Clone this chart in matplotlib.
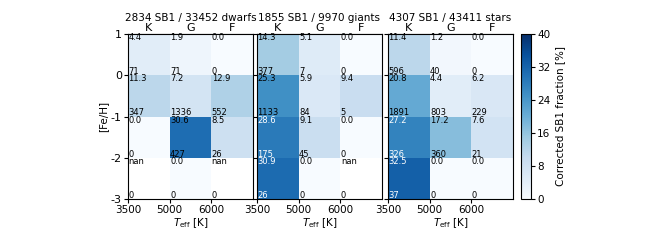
import numpy as np
import matplotlib
matplotlib.use("Agg")
import matplotlib.pyplot as plt

plt.rcParams["axes.unicode_minus"] = False

# ── Data (rows top-to-bottom: [Fe/H] 1..0, 0..-1, -1..-2, -2..-3; cols K, G, F) ──
FEH_EDGES = [1, 0, -1, -2, -3]
SPEC_TYPES = ["K", "G", "F"]
TEFF_TICKS = ["3500", "5000", "6000"]

titles = ["2834 SB1 / 33452 dwarfs", "1855 SB1 / 9970 giants", "4307 SB1 / 43411 stars"]

frac_dwarfs = [[4.4, 1.9, 0.0],
               [11.3, 7.2, 12.9],
               [0.0, 30.6, 8.5],
               [np.nan, 0.0, np.nan]]
n_dwarfs = [[71, 71, 0],
            [347, 1336, 552],
            [0, 427, 26],
            [0, 0, 0]]

frac_giants = [[14.3, 5.1, 0.0],
               [25.3, 5.9, 9.4],
               [28.6, 9.1, 0.0],
               [30.9, 0.0, np.nan]]
n_giants = [[377, 7, 0],
            [1133, 84, 5],
            [175, 45, 0],
            [26, 0, 0]]

frac_all = [[11.4, 1.2, 0.0],
            [20.8, 4.4, 6.2],
            [27.2, 17.2, 7.6],
            [32.5, 0.0, 0.0]]
n_all = [[596, 40, 0],
         [1891, 803, 229],
         [326, 360, 21],
         [37, 0, 0]]

# cells annotated in white
white_dwarfs = [[0, 0, 0], [0, 0, 0], [0, 0, 0], [0, 0, 0]]
white_giants = [[0, 0, 0], [0, 0, 0], [1, 0, 0], [1, 0, 0]]
white_all = [[0, 0, 0], [0, 0, 0], [1, 0, 0], [1, 0, 0]]

panels = [(frac_dwarfs, n_dwarfs, white_dwarfs),
          (frac_giants, n_giants, white_giants),
          (frac_all, n_all, white_all)]

# ── Figure ────────────────────────────────────────────────────────────────────
fig = plt.figure(figsize=(6.58, 2.42), dpi=100)
W, H = 658, 242
lefts = [128, 257, 388]
ax_w, ax_top, ax_bot = 125, 34, 199

x_edges = np.arange(len(SPEC_TYPES) + 1)
mesh = None
for k, (frac, cnt, white) in enumerate(panels):
    ax = fig.add_axes([lefts[k] / W, (H - ax_bot) / H, ax_w / W, (ax_bot - ax_top) / H])
    data = np.array(frac, dtype=float)
    mesh = ax.pcolormesh(x_edges, FEH_EDGES, data, cmap="Blues", vmin=0, vmax=40)
    ax.set_xlim(0, 3)
    ax.set_ylim(-3, 1)
    ax.set_xticks([0, 1, 2])
    ax.set_xticklabels(TEFF_TICKS, fontsize=7.5)
    ax.set_yticks([-3, -2, -1, 0, 1])
    if k == 0:
        ax.set_yticklabels([str(v) for v in [-3, -2, -1, 0, 1]], fontsize=8)
        ax.set_ylabel("[Fe/H]", fontsize=7.5, labelpad=2)
    else:
        ax.set_yticklabels([])
    ax.tick_params(length=3, pad=1.5)
    ax.set_xlabel(r"$T_{\rm eff}$ [K]", fontsize=7.5, labelpad=1)

    top = ax.secondary_xaxis("top")
    top.set_xticks([0.5, 1.5, 2.5])
    top.set_xticklabels(SPEC_TYPES, fontsize=8)
    top.tick_params(length=0, pad=0.5)
    ax.set_title(titles[k], fontsize=7.5, pad=1)

    for i in range(len(FEH_EDGES) - 1):
        y_hi, y_lo = FEH_EDGES[i], FEH_EDGES[i + 1]
        for j in range(len(SPEC_TYPES)):
            col = "white" if white[i][j] else "black"
            v = data[i, j]
            txt = "nan" if np.isnan(v) else f"{v:.1f}"
            ax.text(j + 0.01, y_hi + 0.02, txt, fontsize=6, color=col,
                    va="top", ha="left")
            ax.text(j + 0.01, y_lo - 0.02, str(cnt[i][j]), fontsize=6, color=col,
                    va="bottom", ha="left")

cax = fig.add_axes([521 / W, (H - ax_bot) / H, 10 / W, (ax_bot - ax_top) / H])
cb = fig.colorbar(mesh, cax=cax, ticks=range(0, 41, 8))
cb.ax.tick_params(labelsize=7.5, length=3, pad=1.5)
cb.set_label("Corrected SB1 fraction [%]", fontsize=7.5, labelpad=3)

fig.savefig("out.png", dpi=100)
